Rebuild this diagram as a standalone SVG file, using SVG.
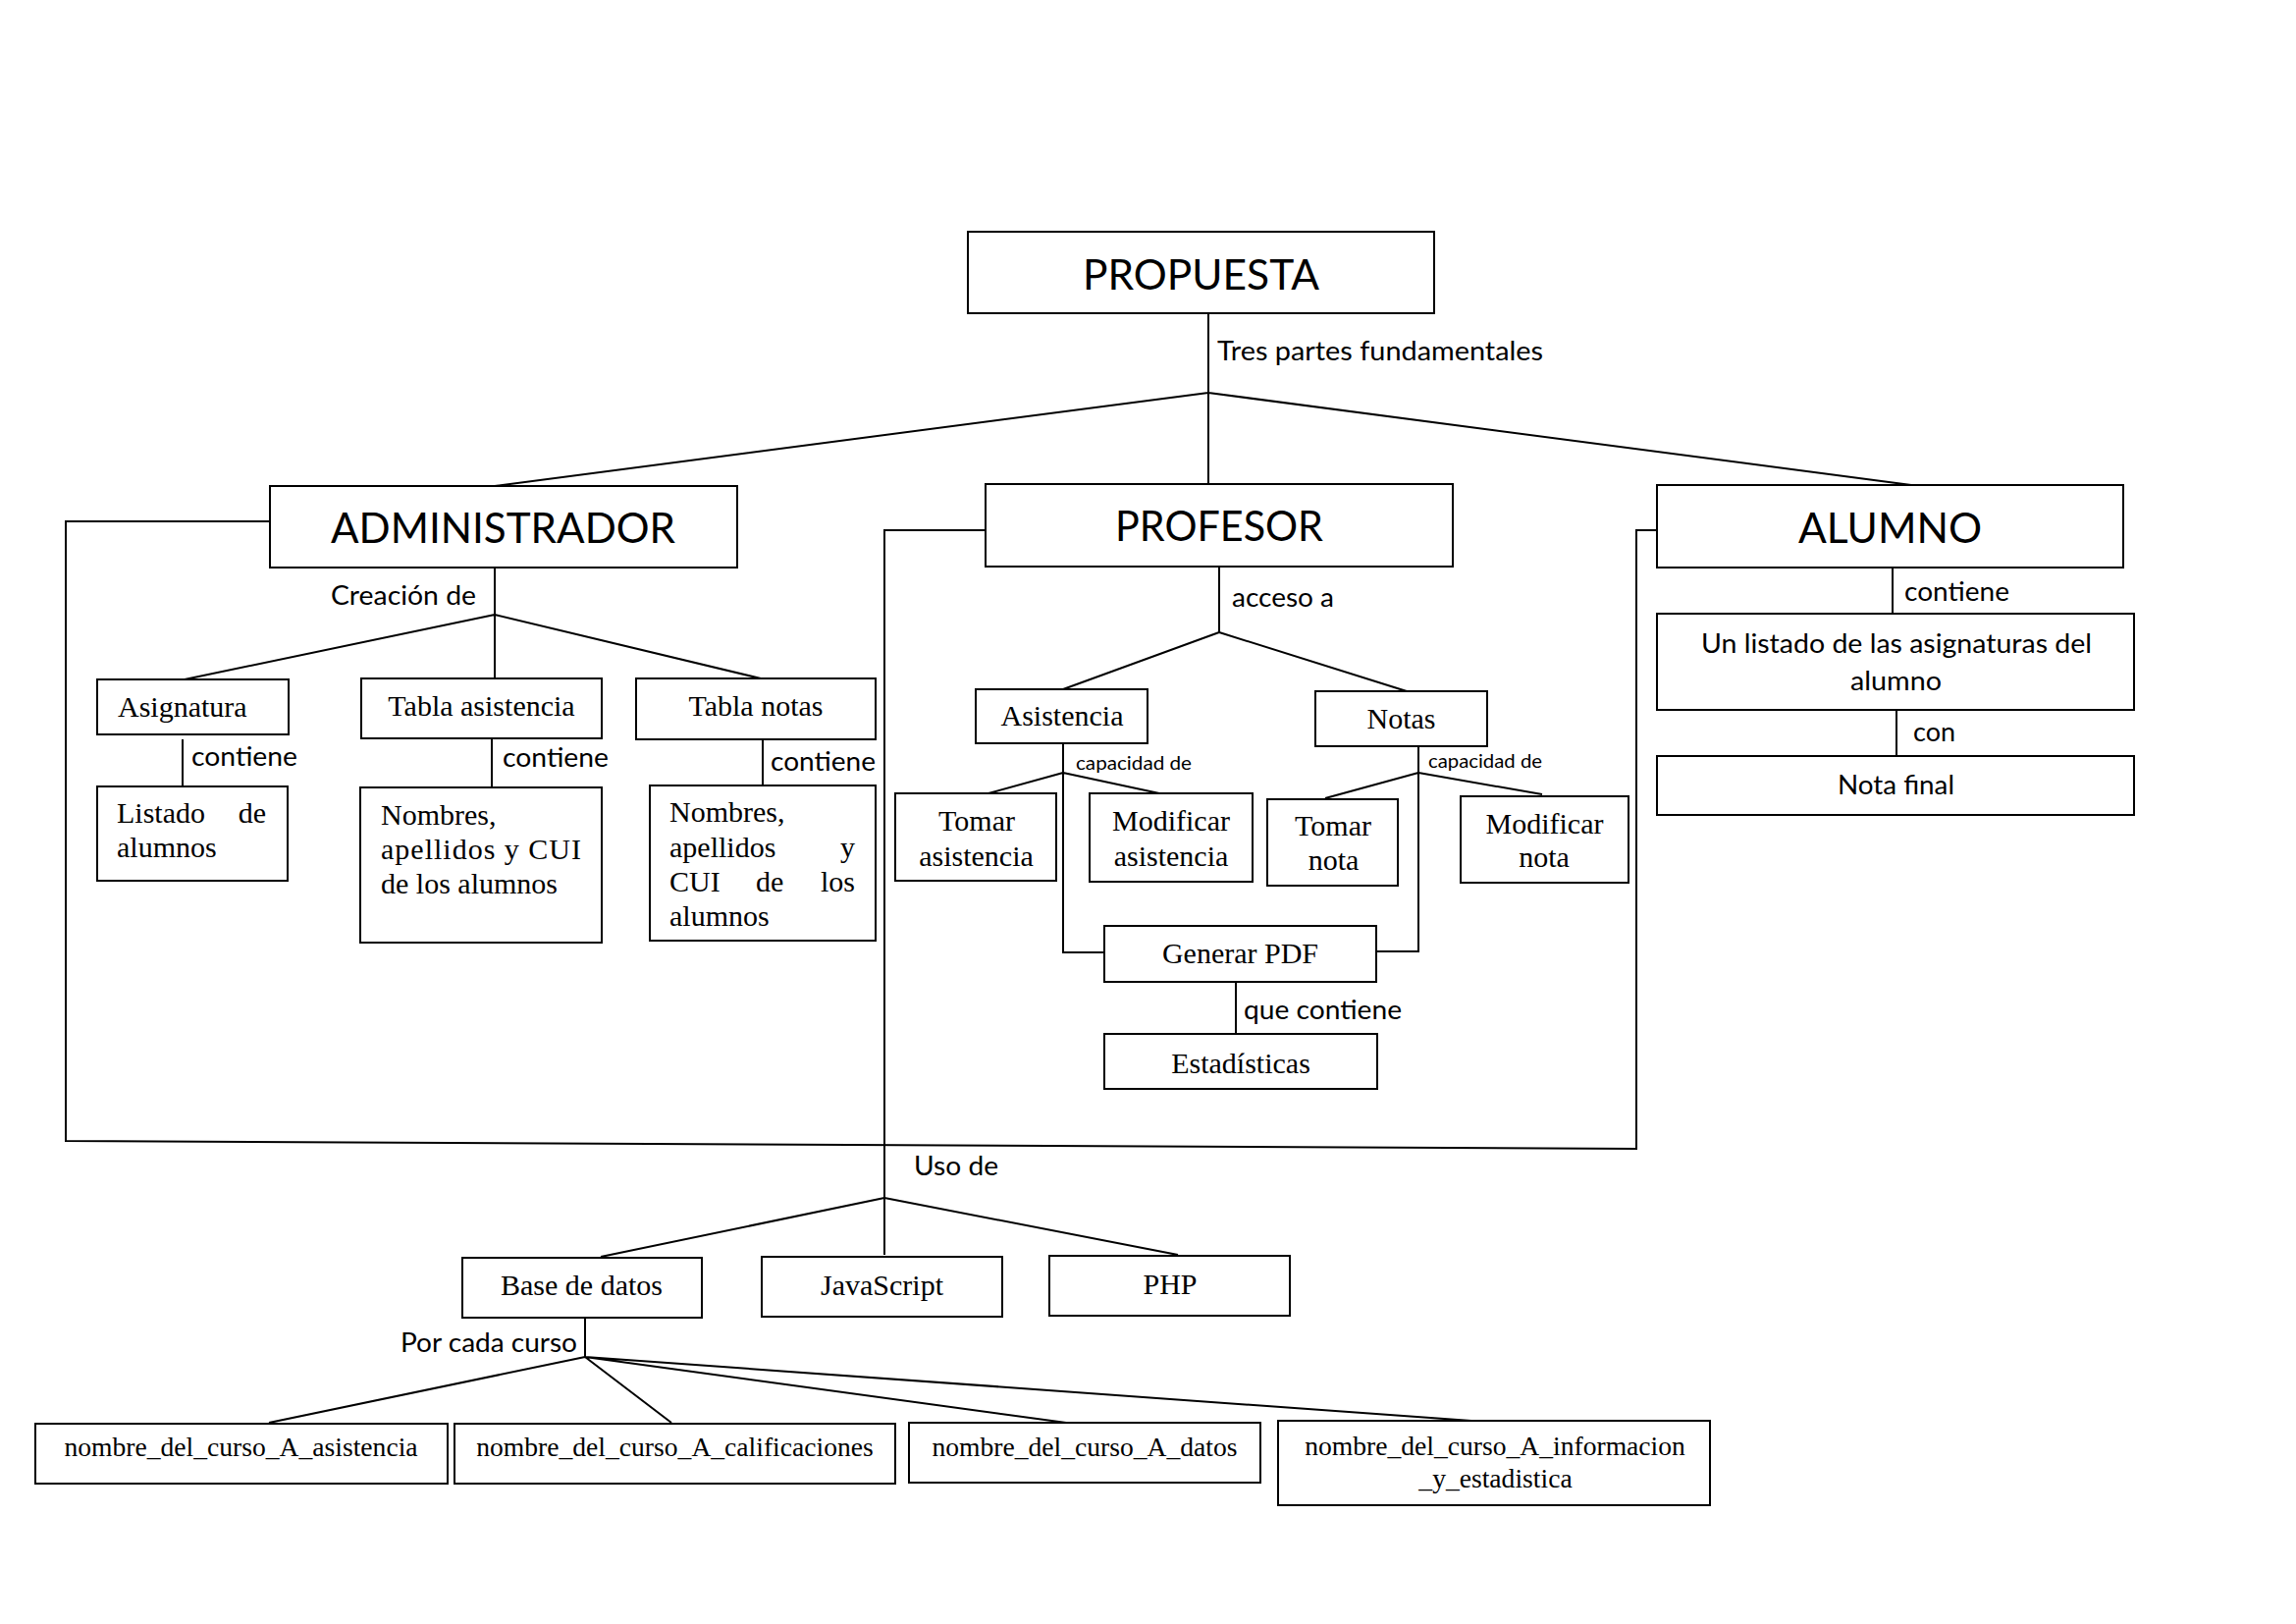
<svg xmlns="http://www.w3.org/2000/svg" width="2339" height="1654" viewBox="0 0 2339 1654">
<style>
.box{fill:#fff;stroke:#000;stroke-width:2}
.ln{fill:none;stroke:#000;stroke-width:2}
.t{font-family:Lato,"Open Sans","Liberation Sans",sans-serif;fill:#000}
.big{font-size:43px}
.lbl{font-size:27px}
.sm{font-size:20px}
.s{font-family:"Liberation Serif","Times New Roman",serif;font-size:30px;fill:#000}
.c{text-anchor:middle}
.n{font-size:27.6px}
</style>
<rect width="2339" height="1654" fill="#fff"/>
<g id="connectors">
<path class="ln" d="M1231,319 V493 M1231,400 L504,495 M1231,400 L1947,494"/>
<path class="ln" d="M504,578 V626 M504,626 L188,692 M504,626 V691 M504,626 L775,691"/>
<path class="ln" d="M186,753 V801 M501,752 V802 M777,753 V800"/>
<path class="ln" d="M275,531 H67 V1162 L1667,1170 V540 H1688"/>
<path class="ln" d="M1004,540 H901 V1278"/>
<path class="ln" d="M1242,577 V644 M1242,644 L1083,702 M1242,644 L1433,704"/>
<path class="ln" d="M1083,757 V970 H1125 M1083,787 L1007,808 M1083,787 L1181,808"/>
<path class="ln" d="M1445,760 V969 H1402 M1445,787 L1350,813 M1445,787 L1571,809"/>
<path class="ln" d="M1259,1000 V1053"/>
<path class="ln" d="M1928,578 V625 M1932,723 V770"/>
<path class="ln" d="M901,1220 L612,1280 M901,1220 L1200,1278"/>
<path class="ln" d="M596,1342 V1382 M596,1382 L274,1449 M596,1382 L684,1449 M596,1382 L1101,1451 M596,1382 L1499,1447"/>
<text class="t lbl" x="1240" y="367" textLength="332" lengthAdjust="spacingAndGlyphs">Tres partes fundamentales</text>
<text class="t lbl" x="337" y="616" textLength="148" lengthAdjust="spacingAndGlyphs">Creación de</text>
<text class="t lbl" x="195" y="780" textLength="108" lengthAdjust="spacingAndGlyphs">contiene</text>
<text class="t lbl" x="512" y="781" textLength="108" lengthAdjust="spacingAndGlyphs">contiene</text>
<text class="t lbl" x="785" y="785" textLength="107" lengthAdjust="spacingAndGlyphs">contiene</text>
<text class="t lbl" x="1255" y="618" textLength="104" lengthAdjust="spacingAndGlyphs">acceso a</text>
<text class="t sm" x="1096" y="784" textLength="118" lengthAdjust="spacingAndGlyphs">capacidad de</text>
<text class="t sm" x="1455" y="782" textLength="116" lengthAdjust="spacingAndGlyphs">capacidad de</text>
<text class="t lbl" x="1267" y="1038" textLength="161" lengthAdjust="spacingAndGlyphs">que contiene</text>
<text class="t lbl" x="1940" y="612" textLength="107" lengthAdjust="spacingAndGlyphs">contiene</text>
<text class="t lbl" x="1949" y="755" textLength="43" lengthAdjust="spacingAndGlyphs">con</text>
<text class="t lbl" x="931" y="1197" textLength="86" lengthAdjust="spacingAndGlyphs">Uso de</text>
<text class="t lbl" x="408" y="1377" textLength="180" lengthAdjust="spacingAndGlyphs">Por cada curso</text>
</g>
<g id="propuesta"><rect class="box" x="986" y="236" width="475" height="83"/><text class="t big" x="1103" y="295" textLength="241" lengthAdjust="spacingAndGlyphs">PROPUESTA</text></g>
<g id="administrador"><rect class="box" x="275" y="495" width="476" height="83"/><text class="t big" x="337" y="553" textLength="351" lengthAdjust="spacingAndGlyphs">ADMINISTRADOR</text></g>
<g id="profesor"><rect class="box" x="1004" y="493" width="476" height="84"/><text class="t big" x="1136" y="551" textLength="212" lengthAdjust="spacingAndGlyphs">PROFESOR</text></g>
<g id="alumno"><rect class="box" x="1688" y="494" width="475" height="84"/><text class="t big" x="1832" y="553" textLength="187" lengthAdjust="spacingAndGlyphs">ALUMNO</text></g>
<g id="asignatura"><rect class="box" x="99" y="692" width="195" height="56"/><text class="s" x="120" y="730">Asignatura</text></g>
<g id="listado-alumnos"><rect class="box" x="99" y="801" width="194" height="96"/><text class="s" x="119" y="838">Listado</text><text class="s" x="271" y="838" text-anchor="end">de</text><text class="s" x="119" y="873">alumnos</text></g>
<g id="tabla-asistencia"><rect class="box" x="368" y="691" width="245" height="61"/><text class="s c" x="490.5" y="729">Tabla asistencia</text></g>
<g id="nombres-asistencia"><rect class="box" x="367" y="802" width="246" height="158"/><text class="s" x="388" y="840">Nombres,</text><text class="s" x="388" y="875" textLength="204" lengthAdjust="spacing">apellidos y CUI</text><text class="s" x="388" y="910">de los alumnos</text></g>
<g id="tabla-notas"><rect class="box" x="648" y="691" width="244" height="62"/><text class="s c" x="770" y="729">Tabla notas</text></g>
<g id="nombres-notas"><rect class="box" x="662" y="800" width="230" height="158"/><text class="s" x="682" y="837">Nombres,</text><text class="s" x="682" y="873">apellidos</text><text class="s" x="871" y="873" text-anchor="end">y</text><text class="s" x="682" y="908">CUI</text><text class="s" x="770" y="908">de</text><text class="s" x="871" y="908" text-anchor="end">los</text><text class="s" x="682" y="943">alumnos</text></g>
<g id="asistencia"><rect class="box" x="994" y="702" width="175" height="55"/><text class="s c" x="1082" y="739">Asistencia</text></g>
<g id="notas"><rect class="box" x="1340" y="704" width="175" height="56"/><text class="s c" x="1427.5" y="742">Notas</text></g>
<g id="tomar-asistencia"><rect class="box" x="912" y="808" width="164" height="89"/><text class="s c" x="995" y="846">Tomar</text><text class="s c" x="994.5" y="882">asistencia</text></g>
<g id="modificar-asistencia"><rect class="box" x="1110" y="808" width="166" height="90"/><text class="s c" x="1193" y="846">Modificar</text><text class="s c" x="1193" y="882">asistencia</text></g>
<g id="tomar-nota"><rect class="box" x="1291" y="814" width="133" height="88"/><text class="s c" x="1358" y="851">Tomar</text><text class="s c" x="1358.5" y="886">nota</text></g>
<g id="modificar-nota"><rect class="box" x="1488" y="811" width="171" height="88"/><text class="s c" x="1573.5" y="849">Modificar</text><text class="s c" x="1573" y="883">nota</text></g>
<g id="generar-pdf"><rect class="box" x="1125" y="943" width="277" height="57"/><text class="s c" x="1263.5" y="981">Generar PDF</text></g>
<g id="estadisticas"><rect class="box" x="1125" y="1053" width="278" height="56"/><text class="s c" x="1264" y="1093" font-size="33">Estadísticas</text></g>
<g id="listado-asignaturas"><rect class="box" x="1688" y="625" width="486" height="98"/><text class="t lbl" x="1733" y="665" textLength="398" lengthAdjust="spacingAndGlyphs">Un listado de las asignaturas del</text><text class="t lbl" x="1885" y="703" textLength="93" lengthAdjust="spacingAndGlyphs">alumno</text></g>
<g id="nota-final"><rect class="box" x="1688" y="770" width="486" height="60"/><text class="t lbl" x="1872" y="809" textLength="119" lengthAdjust="spacingAndGlyphs">Nota final</text></g>
<g id="base-datos"><rect class="box" x="471" y="1281" width="244" height="61"/><text class="s c" x="592.5" y="1319">Base de datos</text></g>
<g id="javascript"><rect class="box" x="776" y="1280" width="245" height="61"/><text class="s c" x="898.5" y="1319">JavaScript</text></g>
<g id="php"><rect class="box" x="1069" y="1279" width="245" height="61"/><text class="s c" x="1192" y="1318">PHP</text></g>
<g id="curso-asistencia"><rect class="box" x="36" y="1450" width="420" height="61"/><text class="s c n" x="245.5" y="1483">nombre_del_curso_A_asistencia</text></g>
<g id="curso-calificaciones"><rect class="box" x="463" y="1450" width="449" height="61"/><text class="s c n" x="687.5" y="1483">nombre_del_curso_A_calificaciones</text></g>
<g id="curso-datos"><rect class="box" x="926" y="1449" width="358" height="61"/><text class="s c n" x="1105" y="1483">nombre_del_curso_A_datos</text></g>
<g id="curso-informacion"><rect class="box" x="1302" y="1447" width="440" height="86"/><text class="s c n" x="1523" y="1482">nombre_del_curso_A_informacion</text><text class="s c n" x="1523.5" y="1515">_y_estadistica</text></g>
</svg>
